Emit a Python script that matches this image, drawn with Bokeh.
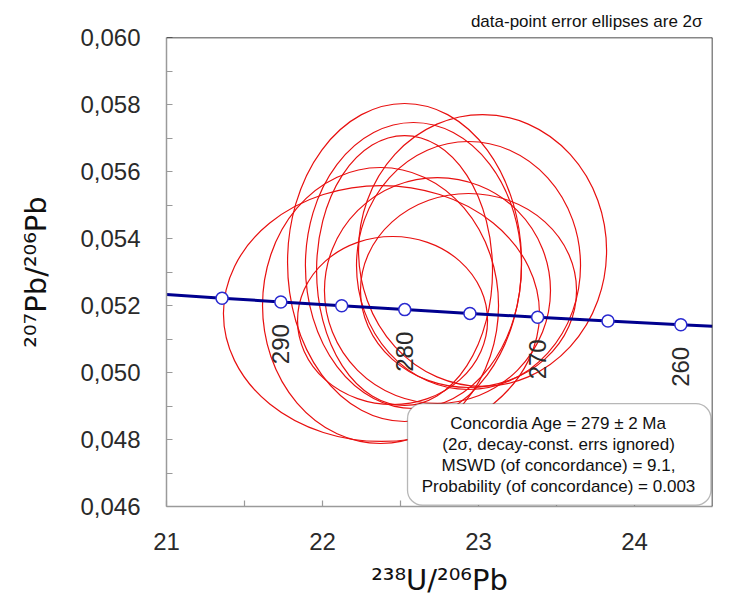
import numpy as np
from bokeh.plotting import figure
from bokeh.models import (FixedTicker, CustomJSTickFormatter, Span, BoxAnnotation,
                          Label, Range1d)
from bokeh.core.properties import value
from bokeh.embed import file_html
from bokeh.resources import INLINE

# ---------------- data ----------------
# error ellipses (2 sigma): centre, full width (238U/206Pb), full height (207Pb/206Pb)
ell_x = [22.378, 22.526, 23.026, 22.583, 22.526, 22.936, 22.372, 22.737, 22.936, 22.449]
ell_y = [0.051761, 0.053284, 0.053642, 0.053194, 0.053045, 0.053194, 0.052000, 0.052448, 0.052448, 0.051552]
ell_w = [2.026, 1.500, 1.590, 1.385, 1.128, 1.436, 1.513, 1.449, 1.385, 1.218]
ell_h = [0.007642, 0.009493, 0.008119, 0.008537, 0.008060, 0.007403, 0.008239, 0.006746, 0.005791, 0.005015]
ell_angle = [0.0] * len(ell_x)

# concordia curve and age markers (Ma)
conc_age = [295, 290, 285, 280, 275, 270, 265, 260]
conc_x = [21.356, 21.733, 22.123, 22.527, 22.945, 23.379, 23.830, 24.297]
conc_y = [0.052219, 0.052105, 0.051991, 0.051877, 0.051764, 0.051651, 0.051539, 0.051427]
curve_x = [21.0] + conc_x + [24.5]
curve_y = [0.05233] + conc_y + [0.05138]

age_labels = ["290", "280", "270", "260"]
age_label_x = [21.733, 22.527, 23.379, 24.297]
age_label_y = [0.052105, 0.051877, 0.051651, 0.051427]

x_ticks = [21, 22, 23, 24]
x_minor = [21.5, 22.5, 23.5]
y_ticks = [0.046, 0.048, 0.050, 0.052, 0.054, 0.056, 0.058, 0.060]
y_minor = [0.047, 0.049, 0.051, 0.053, 0.055, 0.057, 0.059]

result_lines = ["Concordia Age = 279 \u00b1 2 Ma",
                "(2\u03c3, decay-const. errs ignored)",
                "MSWD (of concordance) = 9.1,",
                "Probability (of concordance) = 0.003"]

FONT = "Liberation Sans"
LABEL_FONT = "DejaVu Sans"

p = figure(width=744, height=612, x_range=Range1d(21, 24.5), y_range=Range1d(0.046, 0.060),
           output_backend="svg", toolbar_location=None,
           min_border_left=166, min_border_right=32, min_border_top=37, min_border_bottom=106)
p.outline_line_color = None
p.xgrid.visible = False
p.ygrid.visible = False
p.background_fill_color = "white"
p.border_fill_color = "white"

p.title.text = "data-point error ellipses are 2\u03c3"
p.title.align = "right"
p.title.text_font = FONT
p.title.text_font_size = "17px"
p.title.text_font_style = "normal"
p.title.text_color = "#111111"
p.title.offset = 10
p.title.standoff = 14

# axes
for ax in (p.xaxis[0], p.yaxis[0]):
    ax.axis_line_color = "#9a9a9a"
    ax.axis_line_width = 1.5
    ax.major_tick_line_color = "#9a9a9a"
    ax.minor_tick_line_color = "#9a9a9a"
    ax.major_tick_line_width = 1.2
    ax.minor_tick_line_width = 1.2
    ax.major_tick_in = 6
    ax.major_tick_out = 0
    ax.minor_tick_in = 6
    ax.minor_tick_out = 0
    ax.major_label_text_font = FONT
    ax.major_label_text_font_size = "24px"
    ax.major_label_text_color = "#2a2a2a"
    ax.axis_label_text_font = LABEL_FONT
    ax.axis_label_text_font_style = "normal"
    ax.axis_label_text_font_size = "29px"
    ax.axis_label_text_color = "#111111"

p.xaxis.ticker = FixedTicker(ticks=x_ticks, minor_ticks=x_minor)
p.yaxis.ticker = FixedTicker(ticks=y_ticks, minor_ticks=y_minor)
p.yaxis.formatter = CustomJSTickFormatter(code="return tick.toFixed(3).replace('.', ',');")
p.xaxis.major_label_standoff = 26
p.yaxis.major_label_standoff = 26
p.xaxis.axis_label = "\u00b2\u00b3\u2078U/\u00b2\u2070\u2076Pb"
p.yaxis.axis_label = "\u00b2\u2070\u2077Pb/\u00b2\u2070\u2076Pb"
p.xaxis.axis_label_standoff = 10
p.yaxis.axis_label_standoff = 24

# top and right frame borders (black)
p.add_layout(Span(location=0.060, dimension="width", line_color="#111111", line_width=1.5))
p.add_layout(Span(location=24.5, dimension="height", line_color="#111111", line_width=1.5))

# error ellipses
p.ellipse(x=ell_x, y=ell_y, width=ell_w, height=ell_h, angle=ell_angle,
          fill_color=None, line_color="#e81010", line_width=1.2)

# concordia
p.line(curve_x, curve_y, line_color="#00008f", line_width=3)
p.scatter(conc_x, conc_y, marker="circle", size=12, fill_color="white",
          line_color="#2a2ad0", line_width=1.5)

# age labels, rotated, below markers
lab_y = [v - 0.00066 for v in age_label_y]
p.text(x=age_label_x, y=lab_y, text=age_labels, angle=np.pi / 2,
       text_align="right", text_baseline="middle",
       text_font=value(FONT), text_font_size="24px", text_color="#2a2a2a")

# result box
p.add_layout(BoxAnnotation(left=22.545, right=24.49, bottom=0.04604, top=0.04907,
                           fill_color="white", fill_alpha=1.0, line_color="#111111",
                           line_width=1.3, border_radius=15))
box_cx = 23.513
line_y = [0.048478, 0.047851, 0.047224, 0.046597]
for txt, yy in zip(result_lines, line_y):
    p.add_layout(Label(x=box_cx, y=yy, text=txt, text_align="center", text_baseline="middle",
                       text_font=FONT, text_font_size="17px", text_color="#111111"))

open("out.html", "w").write(file_html(p, INLINE))
